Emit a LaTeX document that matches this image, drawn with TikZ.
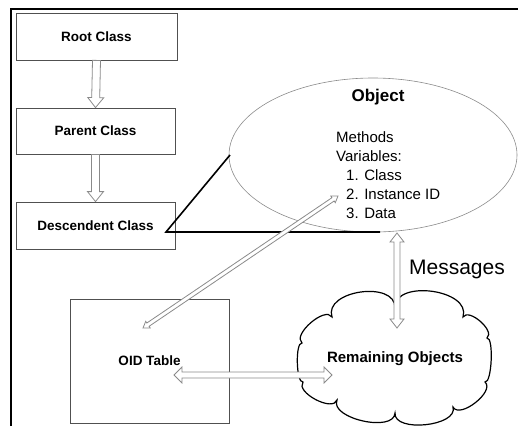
\documentclass[tikz,border=0pt]{standalone}
\usepackage{fontspec}
\setmainfont{Liberation Sans}
\usetikzlibrary{calc,shapes.geometric}
\definecolor{arrowgray}{HTML}{8A8A8A}
\definecolor{boxgray}{HTML}{505050}
\begin{document}
\begin{tikzpicture}[x=1pt,y=-1pt,
  classbox/.style={draw=boxgray, line width=0.8pt, rectangle, inner sep=0pt,
    minimum width=159pt, minimum height=47pt, font=\fontsize{13.5}{16}\selectfont\bfseries},
  harrow/.style n args={3}{draw=arrowgray, fill=white, line width=0.8pt, to path={
    let \p1=(\tikztostart), \p2=(\tikztotarget),
        \n1={atan2(\y2-\y1,\x2-\x1)}, \n2={veclen(\x2-\x1,\y2-\y1)} in
    ($(\p1)+({\n1+90}:#1)$) -- ($(\p1)+(\n1:{\n2-#3})+({\n1+90}:#1)$)
    -- ($(\p1)+(\n1:{\n2-#3})+({\n1+90}:#2)$) -- (\p2)
    -- ($(\p1)+(\n1:{\n2-#3})+({\n1-90}:#2)$) -- ($(\p1)+(\n1:{\n2-#3})+({\n1-90}:#1)$)
    -- ($(\p1)+({\n1-90}:#1)$) -- cycle}},
  hdarrow/.style n args={3}{draw=arrowgray, fill=white, line width=0.8pt, to path={
    let \p1=(\tikztostart), \p2=(\tikztotarget),
        \n1={atan2(\y2-\y1,\x2-\x1)}, \n2={veclen(\x2-\x1,\y2-\y1)} in
    (\p1) -- ($(\p1)+(\n1:#3)+({\n1+90}:#2)$) -- ($(\p1)+(\n1:#3)+({\n1+90}:#1)$)
    -- ($(\p1)+(\n1:{\n2-#3})+({\n1+90}:#1)$) -- ($(\p1)+(\n1:{\n2-#3})+({\n1+90}:#2)$)
    -- (\p2)
    -- ($(\p1)+(\n1:{\n2-#3})+({\n1-90}:#2)$) -- ($(\p1)+(\n1:{\n2-#3})+({\n1-90}:#1)$)
    -- ($(\p1)+(\n1:#3)+({\n1-90}:#1)$) -- ($(\p1)+(\n1:#3)+({\n1-90}:#2)$) -- cycle}},
  puff/.style={to path={.. controls ($(\tikztostart)!#1!100:(\tikztotarget)$)
     and ($(\tikztotarget)!#1!-100:(\tikztostart)$) .. (\tikztotarget)}},
  thickline/.style={draw=black, line width=1.6pt},
  txt/.style={inner sep=0pt}
]
\useasboundingbox (0,0) rectangle (518,426);
% frame
\draw[line width=1.5pt] (11,426) -- (11,9) -- (518,9);

% class boxes
\node[classbox, minimum width=161pt] (root) at (96.5,36.5) {Root Class};
\node[classbox, minimum height=46pt] (parent) at (95.5,131) {Parent Class};
\node[classbox] (desc) at (95.5,225.5) {Descendent Class};

% object ellipse
\node[ellipse, draw=arrowgray, line width=0.6pt, minimum width=288pt, minimum height=154pt, inner sep=0pt] (obj) at (373,155) {};
\node[txt, font=\fontsize{17}{20}\selectfont\bfseries] (objtitle) at (378,97) {Object};
\node[txt, anchor=base west, align=left, font=\fontsize{15}{19}\selectfont] (objbody) at (336,218)
  {Methods\\Variables:\\\hspace*{10pt}1. Class\\\hspace*{10pt}2. Instance ID\\\hspace*{10pt}3. Data};

% triangle lines
\coordinate (apex) at (166,232);
\coordinate (objleft) at (230,155);
\coordinate (objbase) at (380,232);
\draw[thickline] (objleft) -- (apex) -- (objbase);

% messages label
\node[txt, font=\fontsize{21}{24}\selectfont] (msg) at (457,269) {Messages};

% OID table
\node[draw=boxgray, line width=0.8pt, rectangle, inner sep=0pt, minimum width=159pt, minimum height=124pt,
  font=\fontsize{13.5}{16}\selectfont\bfseries] (oid) at (149.5,361) {OID Table};

% cloud
\coordinate (k1) at (395,308);
\coordinate (k2) at (463,317);
\coordinate (k3) at (487,338);
\coordinate (k4) at (485,382);
\coordinate (k5) at (453,407);
\coordinate (k6) at (395,413);
\coordinate (k7) at (337,400);
\coordinate (k8) at (303,382);
\coordinate (k9) at (302,343);
\coordinate (k10) at (332,317);
\draw[line width=1.2pt, fill=white] (k10) to[puff=28pt] (k1) to[puff=29pt] (k2) to[puff=11pt] (k3)
  to[puff=7pt] (k4) to[puff=14pt] (k5) to[puff=20pt] (k6) to[puff=20pt] (k7)
  to[puff=13pt] (k8) to[puff=7pt] (k9) to[puff=13pt] (k10) -- cycle;
\node[txt, font=\fontsize{15}{18}\selectfont\bfseries] (rem) at (395,359) {Remaining Objects};

% hollow arrows
\draw[harrow={4pt}{8pt}{10pt}] (root.south) to (parent.north);
\draw[harrow={4pt}{8pt}{10pt}] (parent.south) to (desc.north);
\coordinate (msgtop) at (397,233);
\coordinate (msgbot) at (397,328);
\draw[hdarrow={3pt}{7pt}{9pt}] (msgtop) to (msgbot);
\coordinate (instA) at (143,328);
\coordinate (instB) at (338,196);
\draw[hdarrow={2pt}{4pt}{6pt}] (instA) to (instB);
\coordinate (oidR) at (174,375);
\coordinate (remL) at (332,375);
\draw[hdarrow={3pt}{8pt}{8pt}] (oidR) to (remL);
\end{tikzpicture}
\end{document}
